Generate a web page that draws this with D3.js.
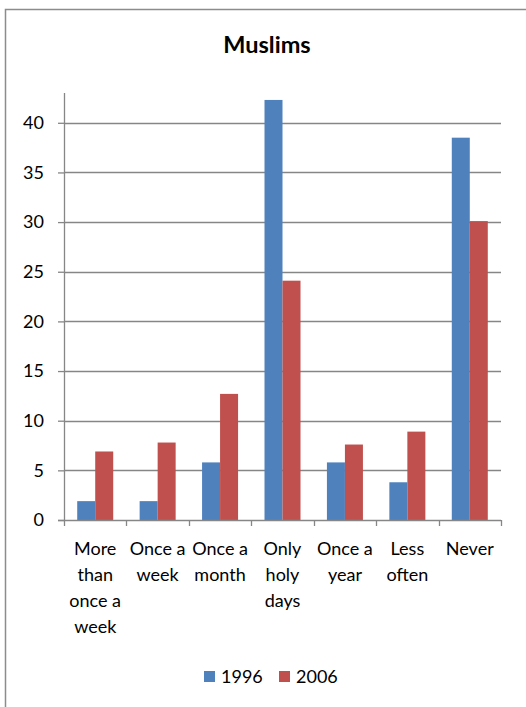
<!DOCTYPE html>
<html>
<head>
<meta charset="utf-8">
<script src="https://cdn.jsdelivr.net/npm/d3@7"></script>
<style>
  html, body { margin: 0; padding: 0; background: #fff; }
  svg { display: block; }
  text { font-family: Lato, "Open Sans", sans-serif; fill: #000; }
</style>
</head>
<body>
<svg id="chart" width="526" height="707"></svg>
<script>
const title = "Muslims";
const categories = ["More than once a week", "Once a week", "Once a month", "Only holy days", "Once a year", "Less often", "Never"];
const categoryLines = [["More", "than", "once a", "week"], ["Once a", "week"], ["Once a", "month"], ["Only", "holy", "days"], ["Once a", "year"], ["Less", "often"], ["Never"]];
const seriesNames = ["1996", "2006"];
const values1996 = [1.9, 1.9, 5.8, 42.3, 5.8, 3.8, 38.5];
const values2006 = [6.9, 7.8, 12.7, 24.1, 7.6, 8.9, 30.1];
const yTicks = [0, 5, 10, 15, 20, 25, 30, 35, 40];
const colors = ["#4F81BD", "#C0504D"];

const svg = d3.select("#chart");

// outer frame
svg.append("rect")
  .attr("x", 5.5).attr("y", 9.5)
  .attr("width", 540).attr("height", 720)
  .attr("fill", "none").attr("stroke", "#8c8c8c").attr("stroke-width", 1.5);

const pLeft = 64, pRight = 501, pTop = 93, pBottom = 520;

const x = d3.scaleBand().domain(categories).range([pLeft, pRight]).paddingInner(0).paddingOuter(0);
const x1 = d3.scaleBand().domain(seriesNames).range([0, x.bandwidth()]).paddingInner(0).paddingOuter(0.734);
const y = d3.scaleLinear().domain([0, 43]).range([pBottom, pTop]);

// title
svg.append("text")
  .attr("x", 267).attr("y", 53)
  .attr("text-anchor", "middle")
  .style("font-weight", "bold").style("font-size", "23.5px")
  .text(title);

// gridlines
svg.append("g").selectAll("line").data(yTicks.filter(d => d > 0)).join("line")
  .attr("x1", pLeft).attr("x2", pRight)
  .attr("y1", d => Math.round(y(d)) + 0.5).attr("y2", d => Math.round(y(d)) + 0.5)
  .attr("stroke", "#868686").attr("stroke-width", 1.3);

// y axis
const yAxis = d3.axisLeft(y).tickValues(yTicks).tickSize(6).tickPadding(14).tickSizeOuter(0);
const gy = svg.append("g").attr("transform", `translate(${pLeft},0)`).call(yAxis);
gy.select(".domain").attr("stroke", "#868686").attr("stroke-width", 1.3)
  .attr("d", `M0.5,${pTop}V${pBottom}`);
gy.selectAll(".tick line").attr("stroke", "#868686").attr("stroke-width", 1.3);
gy.selectAll(".tick text").style("font-size", "18px").style("font-family", "Lato, sans-serif").attr("fill", "#000");

// bars
const data = categories.map((c, i) => ({ c, vals: [values1996[i], values2006[i]] }));
const groups = svg.append("g").selectAll("g").data(data).join("g")
  .attr("transform", d => `translate(${x(d.c)},0)`);
groups.selectAll("rect").data(d => d.vals.map((v, k) => ({ v, k }))).join("rect")
  .attr("x", d => x1(seriesNames[d.k]))
  .attr("width", x1.bandwidth())
  .attr("y", d => y(d.v))
  .attr("height", d => y(0) - y(d.v))
  .attr("fill", d => colors[d.k]);

// x axis
const xAxisLine = svg.append("g");
xAxisLine.append("line")
  .attr("x1", pLeft - 6).attr("x2", pRight)
  .attr("y1", pBottom + 0.5).attr("y2", pBottom + 0.5)
  .attr("stroke", "#868686").attr("stroke-width", 1.3);
const tickPos = categories.map(c => x(c)).concat([pRight]);
xAxisLine.selectAll("line.t").data(tickPos).join("line").attr("class", "t")
  .attr("x1", d => Math.round(d) + 0.5).attr("x2", d => Math.round(d) + 0.5)
  .attr("y1", pBottom).attr("y2", pBottom + 6)
  .attr("stroke", "#868686").attr("stroke-width", 1.3);

// category labels
const labels = svg.append("g").selectAll("text").data(categories).join("text")
  .attr("text-anchor", "middle")
  .style("font-size", "18px");
labels.each(function (c, i) {
  const t = d3.select(this);
  categoryLines[i].forEach((line, j) => {
    t.append("tspan")
      .attr("x", x(c) + x.bandwidth() / 2)
      .attr("y", 555 + j * 26)
      .text(line);
  });
});

// legend
const legendX = [204, 279];
const leg = svg.append("g").selectAll("g").data(seriesNames).join("g")
  .attr("transform", (d, i) => `translate(${legendX[i]},671)`);
leg.append("rect").attr("width", 11).attr("height", 11).attr("fill", (d, i) => colors[i]);
leg.append("text").attr("x", 17).attr("y", 12).style("font-size", "18px").text(d => d);
</script>
</body>
</html>
